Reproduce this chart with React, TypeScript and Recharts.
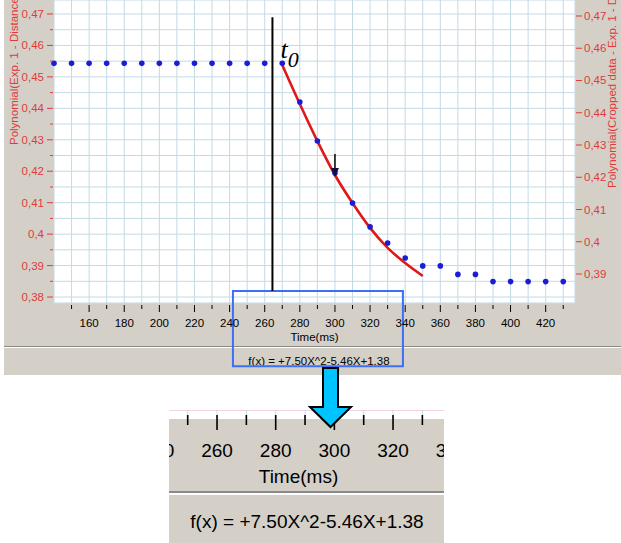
import { ComposedChart, Line, XAxis, YAxis, CartesianGrid, ReferenceLine, ReferenceArea, ReferenceDot } from "recharts"

const FONT = "'Liberation Sans', Arial, sans-serif"
const RED_TXT = "#e03a3a"
const GREY = "#d4d0c8"

// measured distance (left axis), one point every 10 ms
const times = [140, 150, 160, 170, 180, 190, 200, 210, 220, 230, 240, 250, 260, 270,
  280, 290, 300, 310, 320, 330, 340, 350, 360, 370, 380, 390, 400, 410, 420, 430]
const distance = [0.4543, 0.4543, 0.4543, 0.4543, 0.4543, 0.4543, 0.4543, 0.4543, 0.4543, 0.4543, 0.4543, 0.4543, 0.4543, 0.4543,
  0.442, 0.4296, 0.4194, 0.4099, 0.4023, 0.3972, 0.3924, 0.3899, 0.3899, 0.3872, 0.3872, 0.3849, 0.3849, 0.3849, 0.3849, 0.3849]

// polynomial fit on cropped data (right axis)
const fitTimes = [270, 280, 290, 300, 310, 320, 330, 340, 350]
const fitValues = [0.4548, 0.4427, 0.4312, 0.4207, 0.412, 0.4043, 0.3981, 0.3934, 0.3894]

const xTicks = [150, 160, 170, 180, 190, 200, 210, 220, 230, 240, 250, 260, 270, 280, 290,
  300, 310, 320, 330, 340, 350, 360, 370, 380, 390, 400, 410, 420, 430]
const leftTicks = [0.38, 0.385, 0.39, 0.395, 0.4, 0.405, 0.41, 0.415, 0.42, 0.425,
  0.43, 0.435, 0.44, 0.445, 0.45, 0.455, 0.46, 0.465, 0.47]
const rightTicks = [0.39, 0.4, 0.41, 0.42, 0.43, 0.44, 0.45, 0.46, 0.47]
const insetTicks = [240, 250, 260, 270, 280, 290, 300, 310, 320, 330, 340]

const formula = "f(x) = +7.50X^2-5.46X+1.38"
const t0Time = 264.4
const markTime = 300
const markValue = 0.4182

const distData = times.map((t, i) => ({ t, v: distance[i] }))
const fitData = fitTimes.map((t, i) => ({ t, v: fitValues[i] }))

const isMajor = (v: number) => Math.abs(v * 100 - Math.round(v * 100)) < 1e-6
const fmt = (v: number) => String(Math.round(v * 100) / 100).replace(".", ",")

const XTick = (p: any) => {
  const v = p.payload.value
  const major = v % 20 === 0
  return (
    <g>
      <line x1={p.x} x2={p.x} y1={p.y + 2} y2={p.y + (major ? 9 : 6)} stroke="#000" />
      {major && v >= 160 && v <= 420 && (
        <text x={p.x} y={p.y + 24} textAnchor="middle" fontSize={11.5} fontFamily={FONT} fill="#000">{v}</text>
      )}
    </g>
  )
}

const LeftTick = (p: any) => {
  const v = p.payload.value
  const major = isMajor(v)
  return (
    <g>
      <line x1={p.x - (major ? 7 : 4)} x2={p.x - 1} y1={p.y} y2={p.y} stroke={RED_TXT} />
      {major && (
        <text x={p.x - 10} y={p.y + 4} textAnchor="end" fontSize={11.5} fontFamily={FONT} fill={RED_TXT}>{fmt(v)}</text>
      )}
    </g>
  )
}

const RightTick = (p: any) => (
  <g>
    <line x1={p.x + 1} x2={p.x + 7} y1={p.y} y2={p.y} stroke={RED_TXT} />
    <text x={p.x + 9} y={p.y + 4} textAnchor="start" fontSize={11.5} fontFamily={FONT} fill={RED_TXT}>{fmt(p.payload.value)}</text>
  </g>
)

const InsetTick = (p: any) => {
  const v = p.payload.value
  const major = v % 20 === 0
  return (
    <g>
      <line x1={p.x} x2={p.x} y1={p.y - 3} y2={p.y + (major ? 12 : 7)} stroke="#000" strokeWidth={1.6} />
      {major && (
        <text x={p.x} y={p.y + 39} textAnchor="middle" fontSize={19} fontFamily={FONT} fill="#000">{v}</text>
      )}
    </g>
  )
}

const leftTitle = (p: any) => {
  const { x, y } = p.viewBox
  const cx = x + 13.5
  const cy = y + 145
  return (
    <text x={cx} y={cy} dy={4} transform={`rotate(-90 ${cx} ${cy})`} fontSize={11.5} fontFamily={FONT} fill={RED_TXT}>
      Polynomial(Exp. 1 - Distance)
    </text>
  )
}

const rightTitle = (p: any) => {
  const { x, y } = p.viewBox
  const cx = x + 37
  const cy = y + 188
  return (
    <text x={cx} y={cy} dy={4} transform={`rotate(-90 ${cx} ${cy})`} fontSize={11.5} fontFamily={FONT} fill={RED_TXT}>
      Polynomial(Cropped data - Exp. 1 - Distance)
    </text>
  )
}

const timeLabel = (p: any) => {
  const { x, y, width } = p.viewBox
  return (
    <text x={x + width / 2} y={y + 38} textAnchor="middle" fontSize={11.5} fontFamily={FONT} fill="#000">Time(ms)</text>
  )
}

const insetTimeLabel = (p: any) => {
  const { x, y, width } = p.viewBox
  return (
    <text x={x + width / 2 - 8} y={y + 65} textAnchor="middle" fontSize={19} fontFamily={FONT} fill="#000">Time(ms)</text>
  )
}

const t0Label = (p: any) => {
  const { x, y } = p.viewBox
  return (
    <text x={x + 8} y={y + 41} fontFamily="'Liberation Serif', 'Times New Roman', serif" fontStyle="italic" fill="#000">
      <tspan fontSize={26}>t</tspan>
      <tspan fontSize={22} dy={9}>0</tspan>
    </text>
  )
}

const downArrow = (p: any) => {
  const { cx, cy } = p
  return (
    <g>
      <line x1={cx} x2={cx} y1={cy - 23} y2={cy - 5} stroke="#000" strokeWidth={1.5} />
      <polygon points={`${cx - 4},${cy - 9} ${cx + 4},${cy - 9} ${cx},${cy}`} fill="#101040" />
    </g>
  )
}

export default function App() {
  return (
    <div style={{ position: "absolute", left: 0, top: 0, width: 621, height: 543, overflow: "hidden", background: "#fff" }}>
      <div style={{ position: "absolute", left: 4, top: 0, width: 617, height: 375, background: GREY }} />
      <div style={{ position: "absolute", left: 4, top: 346, width: 617, height: 1, background: "#8a8a8a" }} />
      <div style={{ position: "absolute", left: 4, top: 347, width: 617, height: 1, background: "#fff" }} />
      <div style={{ position: "absolute", left: 4, top: 355, width: 630, textAlign: "center", fontFamily: FONT, fontSize: 11.5, color: "#000" }}>
        {formula}
      </div>

      <div style={{ position: "absolute", left: 0, top: 0 }}>
        <ComposedChart width={621} height={376} margin={{ top: 0, right: 0, bottom: 0, left: 0 }}>
          <CartesianGrid yAxisId="left" fill="#fff" stroke="#c3dae5" />
          <XAxis type="number" dataKey="t" domain={[140, 436.7]} ticks={xTicks} interval={0} height={73}
            tickSize={0} tickMargin={0} axisLine={false} tick={XTick} label={{ content: timeLabel }} />
          <YAxis yAxisId="left" orientation="left" width={54} domain={[0.3781, 0.47445]} ticks={leftTicks}
            interval={0} tickSize={0} tickMargin={0} axisLine={false} tick={LeftTick} label={{ content: leftTitle }} />
          <YAxis yAxisId="right" orientation="right" width={46} domain={[0.38101, 0.47496]} ticks={rightTicks}
            interval={0} tickSize={0} tickMargin={0} axisLine={false} tick={RightTick} label={{ content: rightTitle }} />

          <ReferenceLine yAxisId="left" segment={[{ x: t0Time, y: 0.469 }, { x: t0Time, y: 0.3819 }]}
            stroke="#000" strokeWidth={2} label={{ content: t0Label }} />

          <Line yAxisId="left" data={distData} dataKey="v" stroke="none" isAnimationActive={false}
            dot={{ r: 2.8, fill: "#1c1cd4", stroke: "none" }} activeDot={false} />
          <Line yAxisId="right" data={fitData} dataKey="v" type="monotone" stroke="#e01818" strokeWidth={2.6}
            dot={false} activeDot={false} isAnimationActive={false} />

          <ReferenceDot yAxisId="left" x={markTime} y={markValue} r={0} shape={downArrow} />
          <ReferenceArea yAxisId="left" x1={241.9} x2={338.7} y1={0.3819} y2={0.358} ifOverflow="visible"
            fill="none" fillOpacity={0} stroke="#3d6ef7" strokeWidth={2} />
        </ComposedChart>
      </div>

      <div style={{ position: "absolute", left: 169, top: 410, width: 275, height: 133, overflow: "hidden", background: GREY }}>
        <div style={{ position: "absolute", left: 0, top: 0, width: 275, height: 8, background: "#fff", borderTop: "1px solid #f3d6dc" }} />
        <div style={{ position: "absolute", left: -30, top: 0 }}>
          <ComposedChart width={335} height={80} margin={{ top: 0, right: 0, bottom: 0, left: 0 }}>
            <CartesianGrid horizontal={false} stroke="#c8dcea" />
            <XAxis type="number" dataKey="t" domain={[233.4, 347.6]} allowDataOverflow ticks={insetTicks} interval={0} height={72}
              tickSize={0} tickMargin={0} axisLine={false} tick={InsetTick} label={{ content: insetTimeLabel }} />
            <YAxis hide domain={[0.3, 0.5]} />
            <Line data={distData} dataKey="v" stroke="none" dot={false} activeDot={false} isAnimationActive={false} />
          </ComposedChart>
        </div>
        <div style={{ position: "absolute", left: 0, top: 81, width: 275, height: 2, background: "#8a8a8a" }} />
        <div style={{ position: "absolute", left: 0, top: 83, width: 275, height: 2, background: "#fff" }} />
        <div style={{ position: "absolute", left: 0, top: 101, width: 276, textAlign: "center", fontFamily: FONT, fontSize: 19, color: "#000" }}>
          {formula}
        </div>
      </div>

      <svg width={621} height={543} style={{ position: "absolute", left: 0, top: 0, pointerEvents: "none" }}>
        <polygon points="323,368 338,368 338,407 351,407 330.5,427 310,407 323,407"
          fill="#00c4ff" stroke="#000" strokeWidth={2} strokeLinejoin="miter" />
      </svg>
    </div>
  )
}
